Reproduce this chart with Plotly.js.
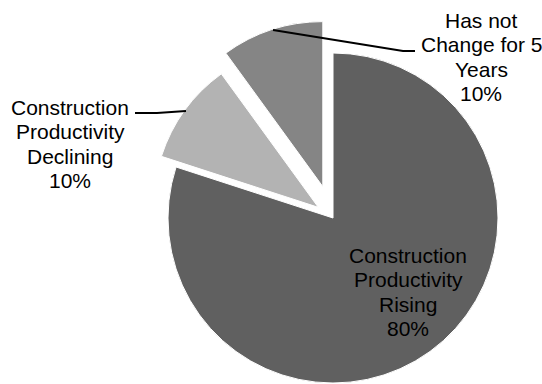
<!DOCTYPE html>
<html>
<head>
<meta charset="utf-8">
<script src="https://cdn.plot.ly/plotly-3.0.1.min.js"></script>
<style>
html,body{margin:0;padding:0;overflow:hidden;background:#fff;}
#chart{width:542px;height:440px;}
</style>
</head>
<body>
<div id="chart"></div>
<script>
// Data
var categories = ["Construction Productivity Rising", "Construction Productivity Declining", "Has not Change for 5 Years"];
var values = [80, 10, 10];
var labelLines = [
  ["Construction", "Productivity", "Rising", "80%"],
  ["Construction", "Productivity", "Declining", "10%"],
  ["Has not", "Change for 5", "Years", "10%"]
];

// Styling / layout (positions in window pixels)
var W = 542, H = 440;
var colors = ["#606060", "#b3b3b3", "#858585"];
var pulls = [0, 0.11, 0.2];
var labelCenters = [[408, 292], [70, 144], [481, 57]];
var lineGap = 24.3;
var leaders = [
  null,
  [[135, 113], [157, 113], [186, 111]],
  [[273, 30], [403, 51], [415, 51]]
];

function px(x) { return x / W; }
function py(y) { return 1 - y / H; }

var annotations = [];
labelLines.forEach(function (lines, i) {
  var c = labelCenters[i];
  var n = lines.length;
  lines.forEach(function (t, j) {
    var y = c[1] + (j - (n - 1) / 2) * lineGap;
    annotations.push({
      xref: "paper", yref: "paper",
      x: px(c[0]), y: py(y),
      xanchor: "center", yanchor: "middle",
      text: t, showarrow: false,
      font: {family: "'Liberation Sans', Arial, sans-serif", size: 21, color: "#000"}
    });
  });
});

var shapes = [];
leaders.forEach(function (pts) {
  if (!pts) return;
  var d = pts.map(function (p, k) { return (k ? "L" : "M") + px(p[0]) + "," + py(p[1]); }).join(" ");
  shapes.push({type: "path", xref: "paper", yref: "paper", path: d,
    line: {color: "#000", width: 2}});
});

var trace = {
  type: "pie",
  labels: categories,
  values: values,
  sort: false,
  direction: "clockwise",
  rotation: 0,
  pull: pulls,
  marker: {colors: colors, line: {color: "#ffffff", width: 1}},
  textinfo: "none",
  hoverinfo: "label+percent",
  showlegend: false,
  domain: {x: [135 / W, 531 / W], y: [1 - 416 / H, 1 - 20 / H]}
};

var layout = {
  width: W, height: H,
  margin: {l: 0, r: 0, t: 0, b: 0},
  paper_bgcolor: "#ffffff",
  showlegend: false,
  annotations: annotations,
  shapes: shapes
};

Plotly.newPlot("chart", [trace], layout, {displayModeBar: false, staticPlot: true});
</script>
</body>
</html>
